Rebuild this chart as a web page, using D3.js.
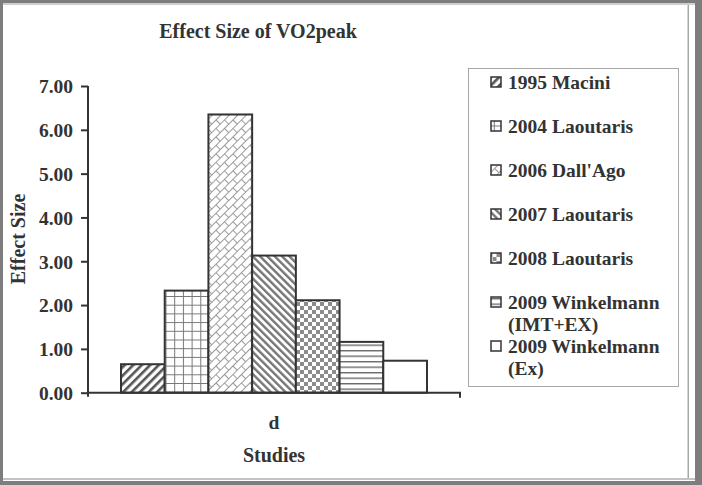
<!DOCTYPE html>
<html>
<head>
<meta charset="utf-8">
<script src="https://cdn.jsdelivr.net/npm/d3@7"></script>
<style>
  body { margin: 0; background: #fff; }
  svg text { font-family: "Liberation Serif", "Times New Roman", serif; font-weight: bold; fill: #333; }
</style>
</head>
<body>
<svg width="702" height="485"></svg>
<script>
// data
var studies = ["1995 Macini", "2004 Laoutaris", "2006 Dall'Ago", "2007 Laoutaris",
               "2008 Laoutaris", "2009 Winkelmann (IMT+EX)", "2009 Winkelmann (Ex)"];
var effectSizes = [0.65, 2.33, 6.35, 3.13, 2.11, 1.16, 0.73];
var categories = ["d"];
var yTicks = [0, 1, 2, 3, 4, 5, 6, 7];

var svg = d3.select("svg"),
  margin = { top: 86, left: 88 },
  width = 372,
  height = 306.7;

// outer frame of the scanned figure
svg.append("rect").attr("width", 702).attr("height", 485).attr("fill", "#7d7d7d");
svg.append("rect").attr("x", 3).attr("y", 3).attr("width", 692).attr("height", 478).attr("fill", "#fff");
svg.append("rect").attr("x", 3).attr("y", 3).attr("width", 692).attr("height", 2).attr("fill", "#cfcfcf");
svg.append("rect").attr("x", 3).attr("y", 478).attr("width", 692).attr("height", 2).attr("fill", "#c4c4c4");
svg.append("rect").attr("x", 687.5).attr("y", 5).attr("width", 1.5).attr("height", 473).attr("fill", "#a8a8a8");

// fill patterns
var defs = svg.append("defs");

function stripes(id, angle, size, w, color) {
  var p = defs.append("pattern").attr("id", id)
    .attr("patternUnits", "userSpaceOnUse")
    .attr("width", size).attr("height", size)
    .attr("patternTransform", "rotate(" + angle + ")");
  p.append("rect").attr("width", size).attr("height", size).attr("fill", "#fff");
  p.append("rect").attr("width", w).attr("height", size).attr("fill", color);
}

stripes("p0", 45, 6, 2.6, "#555");
stripes("p3", -45, 5.2, 2.4, "#777");

var grid = defs.append("pattern").attr("id", "p1")
  .attr("patternUnits", "userSpaceOnUse").attr("width", 8.7).attr("height", 8.7)
  .attr("x", 121).attr("y", 392.7);
grid.append("rect").attr("width", 8.7).attr("height", 8.7).attr("fill", "#fff");
grid.append("path").attr("d", "M0,0.5H8.7M0.5,0V8.7").attr("stroke", "#777").attr("stroke-width", 1);

var brick = defs.append("pattern").attr("id", "p2")
  .attr("patternUnits", "userSpaceOnUse").attr("width", 12).attr("height", 12)
  .attr("patternTransform", "rotate(-45)");
brick.append("rect").attr("width", 12).attr("height", 12).attr("fill", "#fff");
brick.append("path")
  .attr("d", "M0,0.5H12M0,6.5H12M0.5,0V6M6.5,6V12")
  .attr("stroke", "#9a9a9a").attr("stroke-width", 1).attr("fill", "none");

var check = defs.append("pattern").attr("id", "p4")
  .attr("patternUnits", "userSpaceOnUse").attr("width", 8).attr("height", 8);
check.append("rect").attr("width", 8).attr("height", 8).attr("fill", "#fff");
check.append("rect").attr("width", 4).attr("height", 4).attr("fill", "#8c8c8c");
check.append("rect").attr("x", 4).attr("y", 4).attr("width", 4).attr("height", 4).attr("fill", "#8c8c8c");

var hlines = defs.append("pattern").attr("id", "p5")
  .attr("patternUnits", "userSpaceOnUse").attr("width", 5.5).attr("height", 5.5);
hlines.append("rect").attr("width", 5.5).attr("height", 5.5).attr("fill", "#fff");
hlines.append("rect").attr("width", 5.5).attr("height", 1.4).attr("fill", "#6a6a6a");

var fills = ["url(#p0)", "url(#p1)", "url(#p2)", "url(#p3)", "url(#p4)", "url(#p5)", "#fff"];

// scales
var x0 = d3.scaleBand().domain(categories).range([0, width]);
var x1 = d3.scaleBand().domain(studies).range([0, x0.bandwidth()])
  .paddingInner(0).paddingOuter(0.755);
var y = d3.scaleLinear().domain([0, 7]).range([height, 0]);

var g = svg.append("g")
  .attr("transform", "translate(" + margin.left + "," + margin.top + ")");

// bars
g.selectAll("rect.bar")
  .data(effectSizes)
  .enter()
  .append("rect")
  .attr("class", "bar")
  .attr("x", function(d, i) { return x0("d") + x1(studies[i]); })
  .attr("y", function(d) { return y(d); })
  .attr("width", x1.bandwidth())
  .attr("height", function(d) { return height - y(d); })
  .attr("fill", function(d, i) { return fills[i]; })
  .attr("stroke", "#333")
  .attr("stroke-width", 2);

// y axis
var yAxis = g.append("g")
  .call(d3.axisLeft(y).tickValues(yTicks).tickFormat(d3.format(".2f")).tickSize(7).tickPadding(8));
yAxis.select(".domain").attr("stroke", "#333").attr("stroke-width", 2)
  .attr("d", "M0,0V" + (height + 4));
yAxis.selectAll(".tick line").attr("stroke", "#333").attr("stroke-width", 2);
yAxis.selectAll(".tick text")
  .style("font-size", "19.5px").style("font-family", "Liberation Serif").style("font-weight", "bold")
  .attr("fill", "#333").attr("dy", "0.35em");

// x axis (single category, ticks at its edges)
var xAxis = g.append("g")
  .attr("transform", "translate(0," + height + ")")
  .call(d3.axisBottom(x0).tickSize(0).tickPadding(22));
xAxis.select(".domain").attr("stroke", "#333").attr("stroke-width", 2)
  .attr("d", "M0,0H" + width + "V5");
xAxis.selectAll(".tick text")
  .style("font-size", "19.5px").style("font-family", "Liberation Serif").style("font-weight", "bold")
  .attr("fill", "#333");

// titles
svg.append("text")
  .attr("x", 258).attr("y", 38)
  .style("text-anchor", "middle").style("font-size", "20px")
  .text("Effect Size of VO2peak");

svg.append("text")
  .attr("transform", "rotate(-90)")
  .attr("x", -239).attr("y", 25)
  .style("text-anchor", "middle").style("font-size", "20px")
  .text("Effect Size");

svg.append("text")
  .attr("x", margin.left + width / 2).attr("y", 462)
  .style("text-anchor", "middle").style("font-size", "20px")
  .text("Studies");

// legend
var legend = svg.append("g").attr("transform", "translate(468.5,68.5)");
legend.append("rect").attr("width", 210).attr("height", 318)
  .attr("fill", "#fff").attr("stroke", "#a8a8a8").attr("stroke-width", 1);

var item = legend.selectAll("g.item")
  .data(studies)
  .enter()
  .append("g")
  .attr("class", "item")
  .attr("transform", function(d, i) { return "translate(0," + (20.5 + 44 * i) + ")"; });

item.append("rect")
  .attr("x", 22.5).attr("y", -12).attr("width", 10).attr("height", 10)
  .attr("fill", function(d, i) { return fills[i]; })
  .attr("stroke", "#333").attr("stroke-width", 1.5);

item.append("text")
  .attr("x", 39.5)
  .style("font-size", "19.5px")
  .each(function(d) {
    var parts = d.split(" (");
    var t = d3.select(this);
    t.append("tspan").attr("x", 39.5).attr("y", 0).text(parts[0]);
    if (parts[1]) t.append("tspan").attr("x", 39.5).attr("y", 22).text("(" + parts[1]);
  });
</script>
</body>
</html>
